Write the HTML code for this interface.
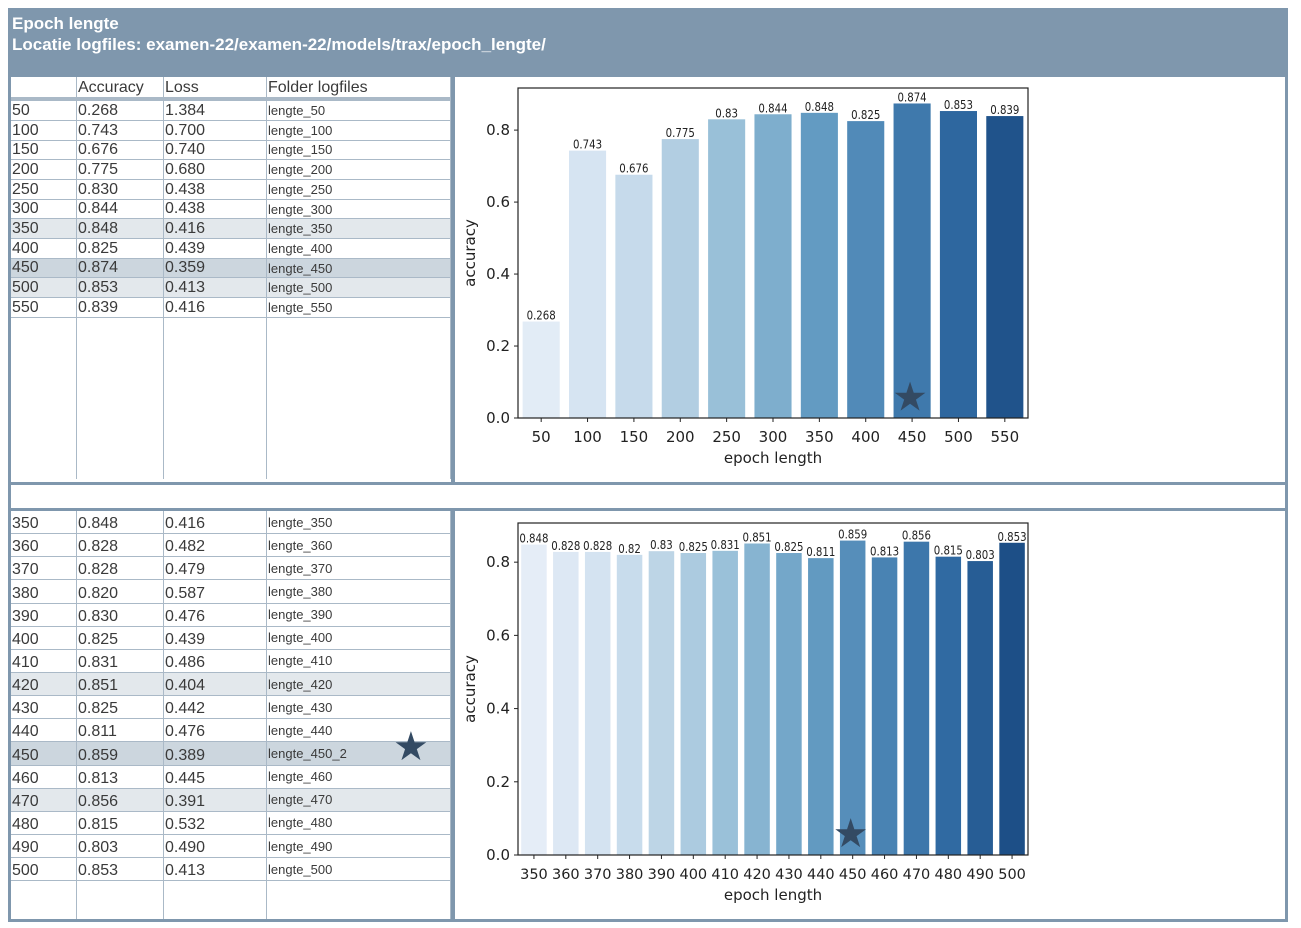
<!DOCTYPE html>
<html><head><meta charset="utf-8">
<style>
body{margin:0;background:#fff;width:1301px;height:928px;position:relative;overflow:hidden;font-family:"Liberation Sans",Arial,sans-serif;}
.abs{position:absolute;}
#header{left:8px;top:8px;width:1280px;height:68px;background:#7f97ad;color:#fff;font-weight:bold;font-size:17px;line-height:21px;}
#header div{padding-left:4px;}
.frame{position:absolute;border:3px solid #7f97ad;box-sizing:border-box;background:#fff;}
table{border-collapse:collapse;position:absolute;font-size:16px;color:#3a3a3a;}
td{padding:0 0 0 1px;border-bottom:1px solid #aab9c7;border-right:1px solid #aab9c7;white-space:nowrap;overflow:hidden;vertical-align:bottom;}
td.f{font-size:13px;vertical-align:middle;}
tr.hl1 td{background:#e3e8ec;}
tr.hl2 td{background:#ccd6de;}
svg text{font-family:"DejaVu Sans",sans-serif;fill:#222;}
</style></head><body>
<div id="header" class="abs">
<div style="padding-top:5px">Epoch lengte</div>
<div>Locatie logfiles: examen-22/examen-22/models/trax/epoch_lengte/</div>
</div>
<div class="frame" style="left:8px;top:74px;width:1280px;height:411px"></div>
<div class="abs" style="left:451px;top:74px;width:4px;height:411px;background:#7f97ad"></div>
<div class="frame" style="left:8px;top:482px;width:1280px;height:29px"></div>
<div class="frame" style="left:8px;top:508px;width:1280px;height:414px"></div>
<div class="abs" style="left:451px;top:508px;width:4px;height:414px;background:#7f97ad"></div>

<table id="t1" style="left:11px;top:77px;width:440px;height:402px"></table>
<table id="t2" style="left:11px;top:511px;width:440px;height:408px"></table>
<div class="abs" style="left:393px;top:727px;font-size:40px;color:#334a63;line-height:40px">★</div>

<svg id="c1" class="abs" style="left:455px;top:77px" width="830" height="403"></svg>
<svg id="c2" class="abs" style="left:455px;top:511px" width="830" height="408"></svg>

<script>
const cats1=["50","100","150","200","250","300","350","400","450","500","550"];
const acc1=[0.268,0.743,0.676,0.775,0.830,0.844,0.848,0.825,0.874,0.853,0.839];
const loss1=["1.384","0.700","0.740","0.680","0.438","0.438","0.416","0.439","0.359","0.413","0.416"];
const lbl1=["0.268","0.743","0.676","0.775","0.83","0.844","0.848","0.825","0.874","0.853","0.839"];
const cats2=["350","360","370","380","390","400","410","420","430","440","450","460","470","480","490","500"];
const acc2=[0.848,0.828,0.828,0.820,0.830,0.825,0.831,0.851,0.825,0.811,0.859,0.813,0.856,0.815,0.803,0.853];
const loss2=["0.416","0.482","0.479","0.587","0.476","0.439","0.486","0.404","0.442","0.476","0.389","0.445","0.391","0.532","0.490","0.413"];
const lbl2=["0.848","0.828","0.828","0.82","0.83","0.825","0.831","0.851","0.825","0.811","0.859","0.813","0.856","0.815","0.803","0.853"];
const yTicks=[0,0.2,0.4,0.6,0.8];
const yTickLabels=["0.0","0.2","0.4","0.6","0.8"];

function fmt3(v){return v.toFixed(3);}
function buildTable(id,cats,acc,loss,hdr,hl,rowH,extraH){
  const t=document.getElementById(id);
  if(hdr){
    const tr=document.createElement('tr');
    
    
    tr.innerHTML='<td style="width:64px;height:20px"></td><td style="width:85px">Accuracy</td><td style="width:101px">Loss</td><td>Folder logfiles</td>';
    tr.querySelectorAll('td').forEach(td=>td.style.borderBottom='4px solid #aab9c7');
    t.appendChild(tr);
  }
  cats.forEach((c,i)=>{
    const tr=document.createElement('tr');
    
    
    if(hl[c]) tr.className=hl[c];
    const folder='lengte_'+c+(id==='t2'&&c==='450'?'_2':'');
    tr.innerHTML='<td style="width:64px;height:'+(rowH-1)+'px">'+c+'</td><td style="width:85px">'+fmt3(acc[i])+'</td><td style="width:101px">'+loss[i]+'</td><td class="f">'+folder+'</td>';
    t.appendChild(tr);
  });
  const tr=document.createElement('tr');
  
  
  tr.innerHTML='<td style="height:'+extraH+'px;border-bottom:none"></td><td style="border-bottom:none"></td><td style="border-bottom:none"></td><td style="border-bottom:none"></td>';
  t.appendChild(tr);
}
buildTable('t1',cats1,acc1,loss1,true,{"350":"hl1","450":"hl2","500":"hl1"},19.6,160);
buildTable('t2',cats2,acc2,loss2,false,{"420":"hl1","450":"hl2","470":"hl1"},23.15,38);

const stops=[[233,240,248],[214,228,242],[188,212,230],[148,189,214],[103,158,196],[74,132,180],[46,104,160],[25,72,128]];
function blue(t){t=Math.max(0,Math.min(1,t))*(stops.length-1);const i=Math.min(stops.length-2,Math.floor(t));const f=t-i;
  const c=stops[i].map((v,k)=>Math.round(v+(stops[i+1][k]-v)*f));return 'rgb('+c.join(',')+')';}
const NS='http://www.w3.org/2000/svg';
function el(svg,tag,attrs,txt){const e=document.createElementNS(NS,tag);for(const k in attrs)e.setAttribute(k,attrs[k]);if(txt!==undefined)e.textContent=txt;svg.appendChild(e);return e;}

function drawChart(id,cats,vals,lbls,box,star,lblSize,t0,t1,xfs){
  const svg=document.getElementById(id);
  const x0=box.x0,x1=box.x1,yT=box.yT,yB=box.yB,ymax=box.ymax;
  const ys=v=>yB-(v/ymax)*(yB-yT);
  const band=(x1-x0)/cats.length;
  const xs=i=>x0+band*(i+0.5);
  cats.forEach((c,i)=>{
    const w=band*0.8,h=yB-ys(vals[i]);
    const r=el(svg,'rect',{x:xs(i)-w/2,y:ys(vals[i]),width:w,height:h,fill:blue(t0+(t1-t0)*i/(cats.length-1))});
    
    
    const t=el(svg,'text',{x:xs(i),y:ys(vals[i])-2,'text-anchor':'middle','font-size':lblSize,transform:'translate('+xs(i)+',0) scale(0.85,1) translate('+(-xs(i))+',0)'},lbls[i]);
    
    
    el(svg,'line',{x1:xs(i),x2:xs(i),y1:yB,y2:yB+4,stroke:'#222','stroke-width':1});
    const xl=el(svg,'text',{x:xs(i),y:yB+24,'text-anchor':'middle','font-size':xfs},c);
    
    
  });
  yTicks.forEach((v,i)=>{
    el(svg,'line',{x1:x0-4,x2:x0,y1:ys(v),y2:ys(v),stroke:'#222'});
    const t=el(svg,'text',{x:x0-8,y:ys(v)+5,'text-anchor':'end','font-size':15},yTickLabels[i]);
    
    
  });
  el(svg,'rect',{x:x0,y:yT,width:x1-x0,height:yB-yT,fill:'none',stroke:'#222','stroke-width':1.2});
  const xt=el(svg,'text',{x:(x0+x1)/2,y:yB+45,'text-anchor':'middle','font-size':15},'epoch length');
  
  
  const yl=el(svg,'text',{x:0,y:0,'text-anchor':'middle','font-size':15,transform:'translate('+(x0-43)+','+((yT+yB)/2)+') rotate(-90)'},'accuracy');
  
  
  const si=cats.indexOf(star);
  const st=el(svg,'text',{x:xs(si)-2,y:ys(0.06)+14,'text-anchor':'middle','font-size':40,fill:'#334a63',style:'fill:#334a63'},'★');
  
  
}
drawChart('c1',cats1,acc1,lbl1,{x0:63,x1:573,yT:11,yB:341,ymax:0.917},'450',12,0.05,0.95,15);
drawChart('c2',cats2,acc2,lbl2,{x0:63,x1:573,yT:12,yB:344,ymax:0.907},'450',12,0.03,0.97,14.5);
</script>
</body></html>
